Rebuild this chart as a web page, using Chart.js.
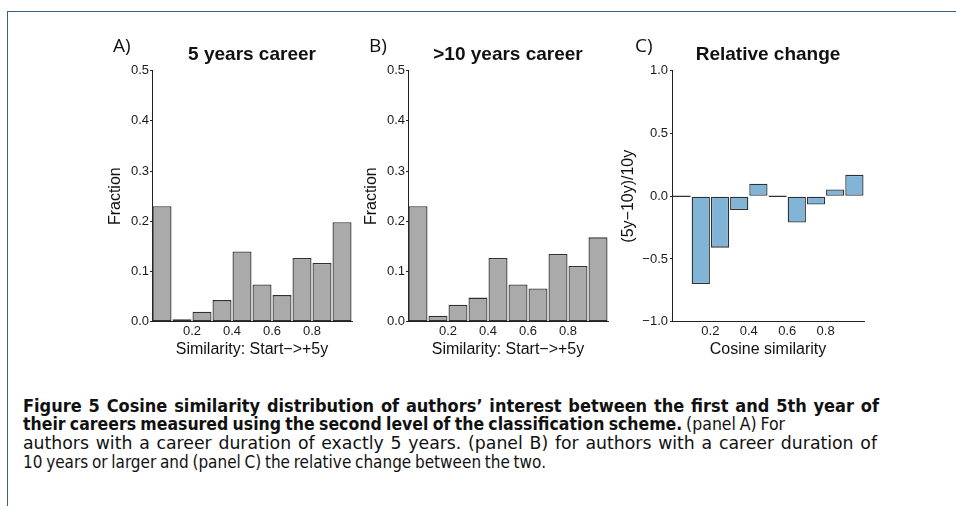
<!DOCTYPE html>
<html><head><meta charset="utf-8">
<script src="https://cdn.jsdelivr.net/npm/chart.js@4.4.1/dist/chart.umd.min.js"></script>
<style>
html,body{margin:0;padding:0;background:#fff;}
body{width:956px;height:506px;position:relative;overflow:hidden;}
.frameTop{position:absolute;left:7px;top:11px;width:949px;height:0;border-top:1.5px solid #3d5f8f;}
.frameLeft{position:absolute;left:7px;top:11px;width:0;height:495px;border-left:1.5px solid #3d5f8f;}
.panel{position:absolute;top:30px;width:260px;height:340px;}
.letter{position:absolute;top:36px;font-family:"Open Sans",sans-serif;font-size:19px;line-height:19px;color:#111;}
.cap{position:absolute;left:23px;white-space:nowrap;font-family:"DejaVu Sans Condensed","DejaVu Sans",sans-serif;font-stretch:condensed;font-size:18px;line-height:19px;color:#111;transform-origin:0 0;}
.cap b{font-weight:bold;}
</style></head>
<body>
<div class="frameTop"></div><div class="frameLeft"></div>
<div class="panel" style="left:100px"><canvas id="cA" width="260" height="340"></canvas></div>
<div class="panel" style="left:356px"><canvas id="cB" width="260" height="340"></canvas></div>
<div class="panel" style="left:610px"><canvas id="cC" width="260" height="340"></canvas></div>
<div class="letter" style="left:113px">A)</div>
<div class="letter" style="left:369px">B)</div>
<div class="letter" style="left:635px">C)</div>
<div class="cap" style="top:396px" data-w="856"><b>Figure 5 Cosine similarity distribution of authors’ interest between the first and 5th year of</b></div>
<div class="cap" style="top:414px" data-w="762"><b>their careers measured using the second level of the classification scheme.</b> (panel A) For</div>
<div class="cap" style="top:433px" data-w="854">authors with a career duration of exactly 5 years. (panel B) for authors with a career duration of</div>
<div class="cap" style="top:452px" data-w="523">10 years or larger and (panel C) the relative change between the two.</div>
<script>
// ---- data ----
const binCenters = [0.05, 0.15, 0.25, 0.35, 0.45, 0.55, 0.65, 0.75, 0.85, 0.95];
const xTickValues = [0.2, 0.4, 0.6, 0.8];
const fiveYearCareer = [0.230, 0.005, 0.020, 0.043, 0.140, 0.074, 0.053, 0.127, 0.117, 0.198];
const tenYearCareer = [0.230, 0.012, 0.034, 0.048, 0.127, 0.074, 0.066, 0.135, 0.111, 0.168];
const relativeChange = [0.0, -0.70, -0.41, -0.11, 0.10, 0.0, -0.21, -0.066, 0.053, 0.17];
const fractionTicks = { min: 0, max: 0.5, step: 0.1 };
const changeTicks = { min: -1, max: 1, step: 0.5 };

const FONT = '"Liberation Sans", Arial, Helvetica, sans-serif';
const INK = '#111';

function fmt(v) { return v.toFixed(1).replace('-', '\u2212'); }

function makeChart(id, values, cfg) {
  const ctx = document.getElementById(id);
  return new Chart(ctx, {
    type: 'bar',
    data: {
      datasets: [{
        data: binCenters.map((x, i) => ({ x: x, y: values[i] })),
        backgroundColor: cfg.fill,
        borderColor: '#303030',
        borderWidth: 1.3,
        borderSkipped: false,
        barPercentage: 0.95,
        categoryPercentage: 1,
        minBarLength: cfg.minBar || 0
      }]
    },
    options: {
      responsive: false,
      animation: false,
      events: [],
      layout: { padding: { top: 0, right: cfg.padRight, bottom: 0, left: 0 } },
      plugins: {
        legend: { display: false },
        tooltip: { enabled: false },
        title: {
          display: true, text: cfg.title, fullSize: false, color: INK,
          font: { family: FONT, size: 19, weight: 'bold' },
          padding: { top: 13.1, bottom: 4.8 }
        }
      },
      scales: {
        x: {
          type: 'linear', min: 0, max: 1, offset: false,
          grid: { display: false, drawTicks: false, tickLength: 0 },
          border: { display: true, color: '#222', width: 1 },
          afterBuildTicks: s => { s.ticks = xTickValues.map(v => ({ value: v })); },
          afterFit: s => { s.height = 48.3; },
          ticks: { color: '#1a1a1a', padding: 2, font: { family: FONT, size: 13 }, callback: v => fmt(v), maxRotation: 0, autoSkip: false },
          title: { display: true, text: cfg.xTitle, color: INK, font: { family: FONT, size: 16 }, padding: { top: 0, bottom: 10.4 } }
        },
        y: {
          type: 'linear', min: cfg.ticks.min, max: cfg.ticks.max,
          grid: { display: true, drawOnChartArea: false, drawTicks: true, tickLength: 2, color: '#222', lineWidth: 1 },
          border: { display: true, color: '#222', width: 1 },
          afterFit: s => { s.width = cfg.yWidth; },
          ticks: { stepSize: cfg.ticks.step, color: '#1a1a1a', padding: cfg.tickPad, font: { family: FONT, size: 13 }, callback: v => fmt(v) },
          title: { display: true, text: cfg.yTitle, color: INK, font: { family: FONT, size: 16 }, padding: { top: cfg.yTitlePad, bottom: 0 } }
        }
      }
    }
  });
}

function fitCaptions() {
  const lines = Array.from(document.querySelectorAll('.cap'));
  const info = lines.map(el => {
    el.style.transform = 'none';
    el.style.wordSpacing = '0px';
    return { el, w: el.getBoundingClientRect().width, target: parseFloat(el.dataset.w), spaces: (el.textContent.match(/ /g) || []).length };
  });
  const s = info.reduce((a, d) => a + d.target / d.w, 0) / info.length;
  info.forEach(d => {
    let ws = (d.target - s * d.w) / (s * d.spaces);
    ws = Math.max(-1.2, Math.min(1.2, ws));
    d.el.style.wordSpacing = ws + 'px';
    const w2 = d.el.getBoundingClientRect().width;
    d.el.style.transform = 'scaleX(' + (d.target / w2) + ')';
  });
}

function build() {
  makeChart('cA', fiveYearCareer, { fill: '#aaaaaa', title: '5 years career', xTitle: 'Similarity: Start\u2212>+5y', yTitle: 'Fraction', ticks: fractionTicks, yWidth: 52, padRight: 8, yTitlePad: 6.4, tickPad: 1 });
  makeChart('cB', tenYearCareer, { fill: '#aaaaaa', title: '>10 years career', xTitle: 'Similarity: Start\u2212>+5y', yTitle: 'Fraction', ticks: fractionTicks, yWidth: 52, padRight: 8, yTitlePad: 6.4, tickPad: 1 });
  makeChart('cC', relativeChange, { fill: '#80b5d7', title: 'Relative change', xTitle: 'Cosine similarity', yTitle: '(5y\u221210y)/10y', ticks: changeTicks, yWidth: 62, padRight: 6, yTitlePad: 8.7, tickPad: 2, minBar: 1.4 });
  fitCaptions();
}
if (document.fonts && document.fonts.ready) { document.fonts.ready.then(build); } else { build(); }
</script>
</body></html>
